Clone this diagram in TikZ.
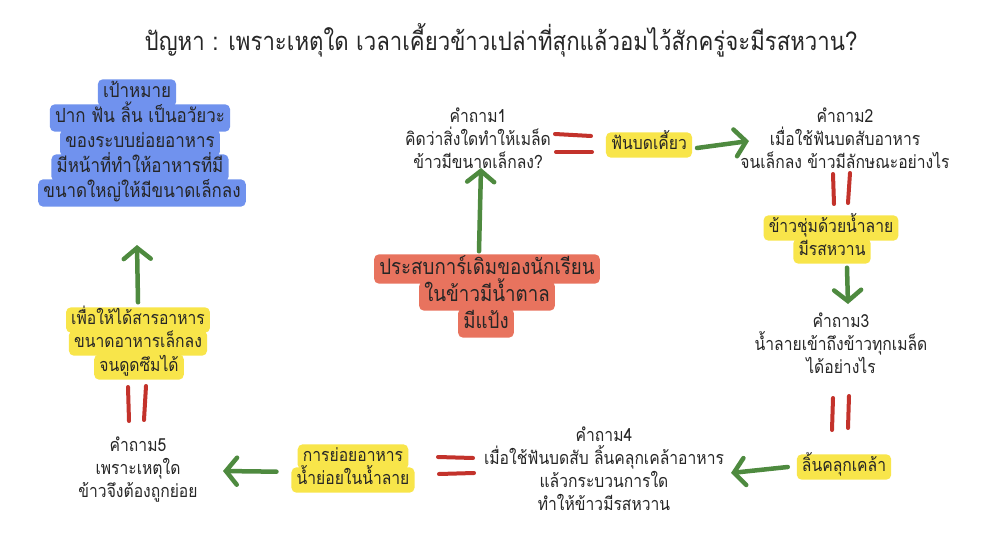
\documentclass[tikz,border=0pt]{standalone}
\usepackage{fontspec}
\setmainfont[Script=Thai,FakeStretch=0.87]{Loma}
\usetikzlibrary{arrows.meta,backgrounds}
\definecolor{cblue}{HTML}{7092EE}
\definecolor{cyellow}{HTML}{F8E54A}
\definecolor{csalmon}{HTML}{E8735E}
\definecolor{cgreen}{HTML}{4E8A3F}
\definecolor{cred}{HTML}{C3322B}
\tikzset{
  body/.style={font=\fontsize{18}{23}\selectfont, align=center, inner sep=0pt, text=black!85},
  hl/.style={font=\fontsize{18}{23}\selectfont, inner xsep=5pt, inner ysep=1pt, text height=16pt, text depth=7pt, text=black!85},
  ybox/.style={hl},
  bbox/.style={hl, font=\fontsize{19.5}{25}\selectfont, text height=17pt, text depth=8pt},
  sbox/.style={hl, font=\fontsize{21.5}{27}\selectfont, text height=19pt, text depth=8pt},
  boxfill/.style={rounded corners=5pt},
  garrow/.style={draw=cgreen, line width=4.5pt, line cap=round, -{Straight Barb[length=11pt,width=27pt,line cap=round]}},
  eqmark/.style={draw=cred, line width=4pt, line cap=round},
}
\begin{document}
\begin{tikzpicture}[x=1pt,y=-1pt]
\useasboundingbox (0,0) rectangle (994,559);
% title
\node[font=\fontsize{25.5}{30}\selectfont, text=black!85] (title) at (501,40) {ปัญหา : เพราะเหตุใด เวลาเคี้ยวข้าวเปล่าที่สุกแล้วอมไว้สักครู่จะมีรสหวาน?};
% goal (blue)
\node[bbox] (b1) at (137,93) {เป้าหมาย};
\node[bbox] (b2) at (140,118) {ปาก ฟัน ลิ้น เป็นอวัยวะ};
\node[bbox] (b3) at (140,143) {ของระบบย่อยอาหาร};
\node[bbox] (b4) at (140,168) {มีหน้าที่ทำให้อาหารที่มี};
\node[bbox] (b5) at (142,193) {ขนาดใหญ่ให้มีขนาดเล็กลง};
% question 1
\node[body] (q1) at (478,138) {คำถาม1\\คิดว่าสิ่งใดทำให้เมล็ด\\ข้าวมีขนาดเล็กลง?};
\draw[eqmark] (555,134) -- (591,136);
\draw[eqmark] (556,152) -- (592,152);
\node[ybox] (fan) at (649,145) {ฟันบดเคี้ยว};
% question 2
\node[body] (q2) at (845,138) {คำถาม2\\เมื่อใช้ฟันบดสับอาหาร\\จนเล็กลง ข้าวมีลักษณะอย่างไร};
\coordinate (a1) at (749,141);
\draw[garrow] ([xshift=5pt,yshift=-3pt]fan.east) -- (a1);
\draw[eqmark] (833,174) -- (834,204);
\draw[eqmark] (850,173) -- (848,203);
\node[ybox] (s1) at (831,228) {ข้าวชุ่มด้วยน้ำลาย};
\node[ybox] (s2) at (832,251) {มีรสหวาน};
% question 3
\node[body] (q3) at (841,343) {คำถาม3\\น้ำลายเข้าถึงข้าวทุกเมล็ด\\ได้อย่างไร};
\coordinate (a2) at (848,304);
\draw[garrow] ([xshift=15pt,yshift=-4pt]s2.south) -- (a2);
\draw[eqmark] (833,398) -- (832,430);
\draw[eqmark] (849,396) -- (848,428);
\node[ybox] (lin) at (844,467) {ลิ้นคลุกเคล้า};
% question 4
\node[body] (q4) at (604,469) {คำถาม4\\เมื่อใช้ฟันบดสับ ลิ้นคลุกเคล้าอาหาร\\แล้วกระบวนการใด\\ทำให้ข้าวมีรสหวาน};
\coordinate (a3) at (731,473);
\draw[garrow] ([xshift=-9pt]lin.west) -- (a3);
\draw[eqmark] (438,457) -- (473,458);
\draw[eqmark] (439,474) -- (474,473);
\node[ybox] (d1) at (353,457) {การย่อยอาหาร};
\node[ybox] (d2) at (353,480) {น้ำย่อยในน้ำลาย};
% question 5
\node[body] (q5) at (138,470) {คำถาม5\\เพราะเหตุใด\\ข้าวจึงต้องถูกย่อย};
\coordinate (a4) at (223,471);
\draw[garrow] ([xshift=-15pt,yshift=-2pt]d2.west |- d1.south) -- (a4);
\draw[eqmark] (128,387) -- (129,421);
\draw[eqmark] (146,386) -- (144,420);
\node[ybox] (p1) at (138,320) {เพื่อให้ได้สารอาหาร};
\node[ybox] (p2) at (138,343) {ขนาดอาหารเล็กลง};
\node[ybox] (p3) at (139,367) {จนดูดซึมได้};
\coordinate (a5) at (137,245);
\draw[garrow] ([yshift=5pt]p1.north) -- (a5);
% prior experience (salmon)
\node[sbox] (e1) at (487,269) {ประสบการ์เดิมของนักเรียน};
\node[sbox] (e2) at (487,296) {ในข้าวมีน้ำตาล};
\node[sbox] (e3) at (486,323) {มีแป้ง};
\coordinate (a6) at (481,168);
\draw[garrow] ([xshift=-8pt,yshift=3pt]e1.north) -- (a6);
% box backgrounds
\begin{scope}[on background layer]
  \fill[white] (0,0) rectangle (994,559);
  \foreach \n in {b1,b2,b3,b4,b5}
    \fill[cblue, boxfill] (\n.south west) rectangle (\n.north east);
  \foreach \n in {fan,s1,s2,lin,d1,d2,p1,p2,p3}
    \fill[cyellow, boxfill] (\n.south west) rectangle (\n.north east);
  \foreach \n in {e1,e2,e3}
    \fill[csalmon, boxfill] (\n.south west) rectangle (\n.north east);
\end{scope}
\end{tikzpicture}
\end{document}
